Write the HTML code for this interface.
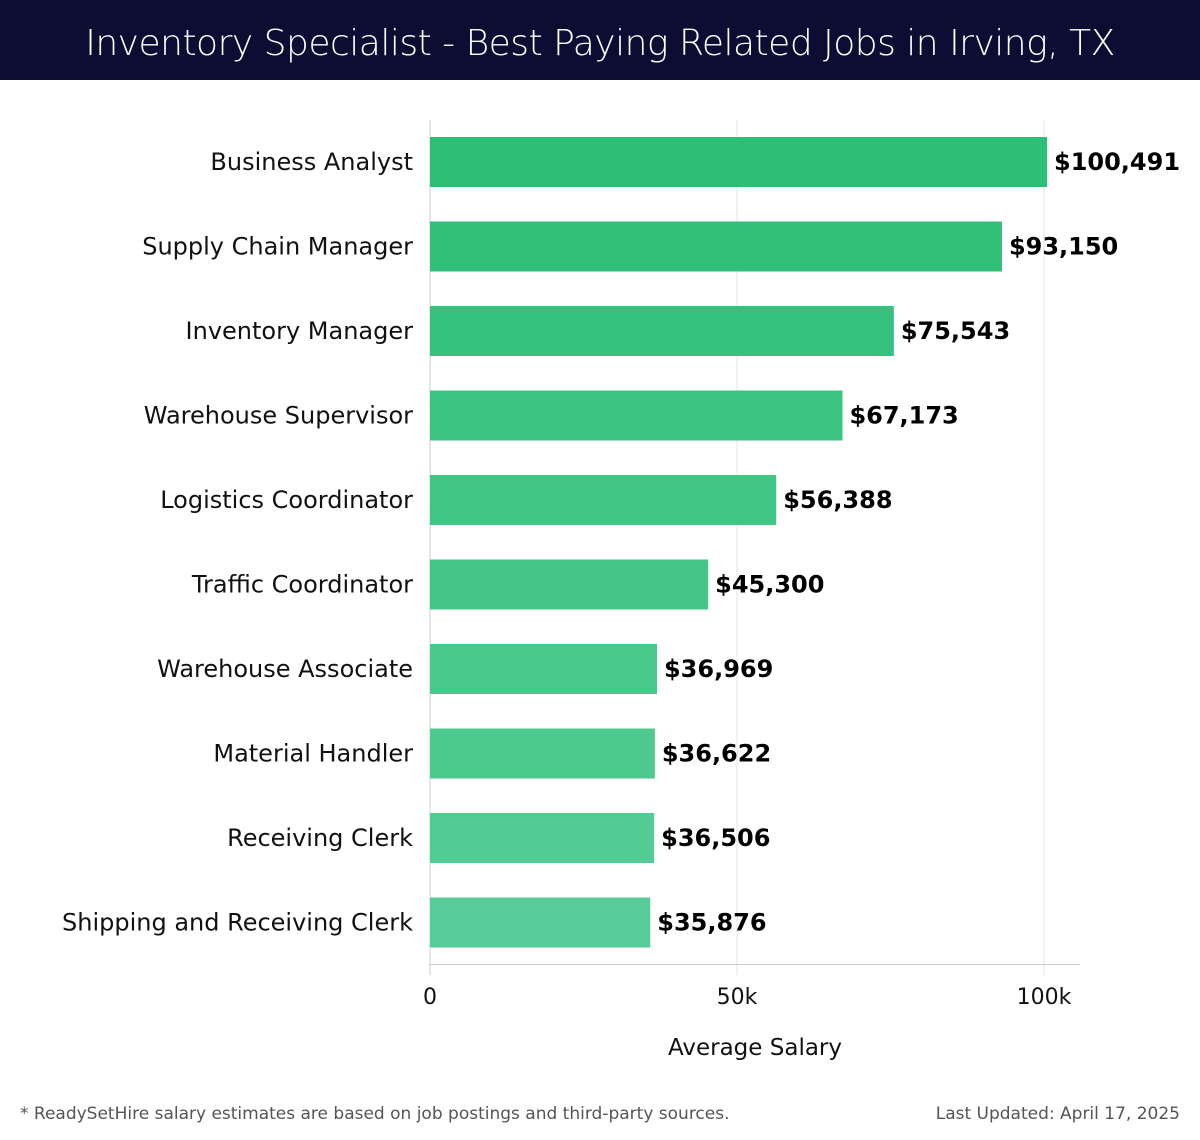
<!DOCTYPE html>
<html><head><meta charset="utf-8"><style>
body{margin:0;width:1200px;height:1140px;background:#fff;font-family:"Liberation Sans","DejaVu Sans",sans-serif;overflow:hidden}
#hdr{position:absolute;left:0;top:0;width:1200px;height:80px;background:#0b0d33;color:#fff;font-size:36px;text-align:center;line-height:88px;font-family:"DejaVu Sans","Liberation Sans",sans-serif;font-weight:300;letter-spacing:-0.5px}
svg{position:absolute;left:0;top:0}
</style></head><body>
<div id="hdr">Inventory Specialist - Best Paying Related Jobs in Irving, TX</div>
<svg id="c" width="1200" height="1140"></svg>
<script>
const categories=["Business Analyst","Supply Chain Manager","Inventory Manager","Warehouse Supervisor","Logistics Coordinator","Traffic Coordinator","Warehouse Associate","Material Handler","Receiving Clerk","Shipping and Receiving Clerk"];
const values=[100491,93150,75543,67173,56388,45300,36969,36622,36506,35876];
const labels=["$100,491","$93,150","$75,543","$67,173","$56,388","$45,300","$36,969","$36,622","$36,506","$35,876"];
const ticks=[0,50000,100000];
const tickLabels=["0","50k","100k"];
const NS="http://www.w3.org/2000/svg";
const svg=document.getElementById('c');
const x0=430,pxPer=614/100000,top0=120,band=84.5,barH=50;
const x=v=>x0+v*pxPer;
const y=i=>top0+i*band+17;
function mk(t,a,txt){const e=document.createElementNS(NS,t);for(const k in a)e.setAttribute(k,a[k]);if(txt!==undefined)e.textContent=txt;svg.appendChild(e);return e;}
ticks.forEach((t,i)=>{
 const g=mk('line',{x1:x(t),x2:x(t),y1:120,y2:975,stroke:i==0?'#ccc':'#e6e6e6','stroke-width':1});
 
 
 const l=mk('text',{x:x(t),y:1004,'text-anchor':'middle','font-size':22,fill:'#111','font-family':'DejaVu Sans,sans-serif'},tickLabels[i]);
 
 
});
const ax=mk('line',{x1:430,x2:1080,y1:964.5,y2:964.5,stroke:'#ccc','stroke-width':1});


function col(i){const a=[45,191,117],b=[87,204,152];const f=i/(values.length-1);return 'rgb('+a.map((v,k)=>Math.round(v+(b[k]-v)*f)).join(',')+')';}
values.forEach((v,i)=>{
 const r=mk('rect',{x:x0,y:y(i),width:x(v)-x0,height:barH,fill:col(i)});
 
 
 const c=mk('text',{x:413,y:y(i)+33,'text-anchor':'end','font-size':24,fill:'#111','font-family':'DejaVu Sans,sans-serif'},categories[i]);
 
 
 const t=mk('text',{x:x(v)+7,y:y(i)+33,'font-size':24,'font-weight':'bold',fill:'#000','font-family':'DejaVu Sans,sans-serif'},labels[i]);
 
 
});
const xt=mk('text',{x:755,y:1055,'text-anchor':'middle','font-size':23,fill:'#111','font-family':'DejaVu Sans,sans-serif'},'Average Salary');


const f1=mk('text',{x:20,y:1119,'font-size':17,fill:'#555','font-family':'DejaVu Sans,sans-serif'},'* ReadySetHire salary estimates are based on job postings and third-party sources.');


const f2=mk('text',{x:1180,y:1119,'text-anchor':'end','font-size':17,fill:'#555','font-family':'DejaVu Sans,sans-serif'},'Last Updated: April 17, 2025');


</script>
</body></html>
